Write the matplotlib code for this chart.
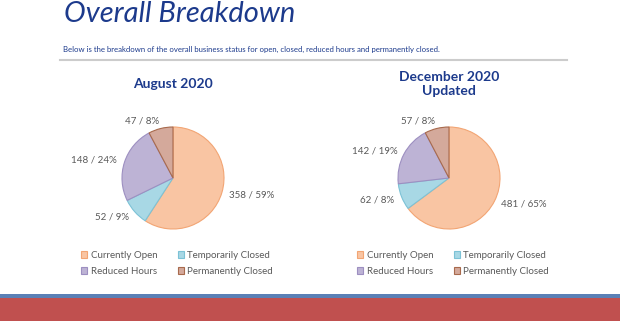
import matplotlib.pyplot as plt
from matplotlib.patches import Rectangle

# data
categories = ['Currently Open', 'Temporarily Closed', 'Reduced Hours', 'Permanently Closed']
aug_values = [358, 52, 148, 47]
dec_values = [481, 62, 142, 57]
chart_titles = ['August 2020', 'December 2020\nUpdated']

face_colors = ['#f9c5a3', '#a8d8e5', '#bdb3d5', '#d4a99b']
edge_colors = ['#f2a574', '#7cc2d6', '#9d8fc1', '#a86a4d']
navy = '#1c3a8c'
grey = '#595959'

plt.rcParams['font.family'] = ['Lato', 'DejaVu Sans']

W, H = 620, 321
fig = plt.figure(figsize=(W / 100, H / 100), dpi=100)
fig.patch.set_facecolor('white')

# header
fig.text(64 / W, 1 - 22 / H, 'Overall Breakdown', fontsize=21, style='italic',
         color=navy, va='baseline', ha='left')
fig.text(63 / W, 1 - 49 / H,
         'Below is the breakdown of the overall business status for open, closed, reduced hours and permanently closed.',
         fontsize=5.6, color=navy, va='center', ha='left')
fig.add_artist(plt.Line2D([60 / W, 567 / W], [1 - 60 / H, 1 - 60 / H], color='#cccccc', lw=1.5))

# footer strips
fig.add_artist(Rectangle((0, 0), 1, 23 / H, transform=fig.transFigure, color='#c0504f', lw=0))
fig.add_artist(Rectangle((0, 23 / H), 1, 4 / H, transform=fig.transFigure, color='#5a80b6', lw=0))

radius_px = 51


def draw_pie(cx, cy, values, title, title_y):
    # axes box in pixels around the pie centre, scaled so radius 1 = radius_px
    half_w, half_h = 130, 110
    ax = fig.add_axes([(cx - half_w) / W, 1 - (cy + half_h) / H, 2 * half_w / W, 2 * half_h / H])
    total = sum(values)
    labels = ['%d / %d%%' % (v, round(100 * v / total)) for v in values]
    wedges, texts = ax.pie(values, startangle=90, counterclock=False, colors=face_colors,
                           labels=labels, labeldistance=1.15,
                           wedgeprops=dict(linewidth=0.8),
                           textprops=dict(fontsize=7, color=grey))
    for w, ec in zip(wedges, edge_colors):
        w.set_edgecolor(ec)
    ax.set_xlim(-half_w / radius_px, half_w / radius_px)
    ax.set_ylim(-half_h / radius_px, half_h / radius_px)
    ax.set_aspect('equal')
    ax.axis('off')

    fig.text(cx / W, 1 - title_y / H, title, fontsize=10, fontweight='bold',
             color=navy, ha='center', va='center', linespacing=1.25)

    # legend fills by column, so reorder to get row-wise order like the original
    order = [0, 2, 1, 3]
    ax.legend([wedges[i] for i in order], [categories[i] for i in order], ncol=2,
              frameon=False, fontsize=7, loc='upper left',
              bbox_to_anchor=((cx - 97) / W, 1 - 246 / H), bbox_transform=fig.transFigure,
              borderpad=0, handlelength=0.65, handleheight=0.65, handletextpad=0.35,
              columnspacing=2.1, labelspacing=0.75, labelcolor=grey)
    return ax


draw_pie(173, 178, aug_values, chart_titles[0], 84)
draw_pie(449, 178, dec_values, chart_titles[1], 84)

fig.savefig('out.png', dpi=100, facecolor='white')
